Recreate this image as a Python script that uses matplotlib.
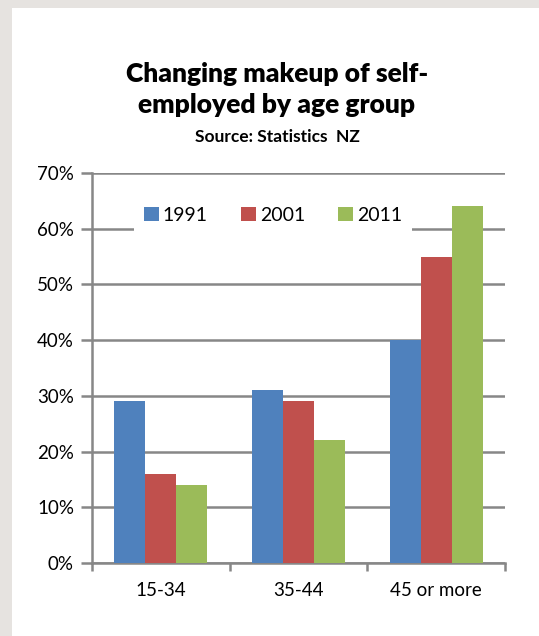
import matplotlib
matplotlib.use("Agg")
import matplotlib.pyplot as plt
import numpy as np

groups = ["15-34", "35-44", "45 or more"]
years = ["1991", "2001", "2011"]
v1991 = [29, 31, 40]
v2001 = [16, 29, 55]
v2011 = [14, 22, 64]
colors = ["#4f81bd", "#c0504d", "#9bbb59"]

plt.rcParams["font.family"] = ["Lato", "DejaVu Sans"]

W, H = 539, 636
fig = plt.figure(figsize=(W / 100, H / 100), dpi=100)
fig.patch.set_facecolor("#e6e3e0")
# white chart panel
fig.patches.append(plt.Rectangle((12 / W, 0), 1, 1 - 8 / H, transform=fig.transFigure,
                                 facecolor="white", edgecolor="none", zorder=-1))

ax = fig.add_axes([92 / W, 1 - 563 / H, (505 - 92) / W, (563 - 173) / H])
ax.set_facecolor("white")

x = np.arange(len(groups))
bw = 0.225
for i, (vals, lab) in enumerate(zip([v1991, v2001, v2011], years)):
    ax.bar(x + (i - 1) * bw, vals, bw, color=colors[i], label=lab, zorder=3)

ax.set_xlim(-0.5, 2.5)
ax.set_ylim(0, 70)
ax.set_yticks(range(0, 71, 10))
ax.set_yticklabels([f"{t}%" for t in range(0, 71, 10)], fontsize=13.5)
ax.yaxis.grid(True, color="#878787", linewidth=1.8, zorder=0)
ax.set_axisbelow(True)

ax.set_xticks(x)
ax.set_xticklabels(groups, fontsize=13.5)
ax.tick_params(axis="x", length=0, pad=14)
ax.set_xticks([-0.5, 0.5, 1.5, 2.5], minor=True)
ax.tick_params(axis="x", which="minor", length=6, width=1.8, color="#878787", direction="out")
ax.tick_params(axis="y", length=8, width=1.8, color="#878787", pad=5)

for s in ["top", "right"]:
    ax.spines[s].set_visible(False)
for s in ["left", "bottom"]:
    ax.spines[s].set_color("#878787")
    ax.spines[s].set_linewidth(1.8)

leg = ax.legend(loc="center", bbox_to_anchor=(0.438, 0.892), ncol=3, fontsize=14,
                frameon=True, facecolor="white", edgecolor="none", framealpha=1,
                handlelength=0.78, handleheight=0.78, handletextpad=0.2,
                columnspacing=1.7, borderpad=0.5, fancybox=False)
leg.set_zorder(5)

cx = 277 / W
fig.text(cx, 1 - 82 / H, "Changing makeup of self-", ha="center", va="baseline",
         fontsize=19, fontweight="heavy")
fig.text(cx, 1 - 113 / H, "employed by age group", ha="center", va="baseline",
         fontsize=19, fontweight="heavy")
fig.text(cx, 1 - 142 / H, "Source: Statistics  NZ", ha="center", va="baseline",
         fontsize=12.5, fontweight="bold")

fig.savefig("out.png", dpi=100)
